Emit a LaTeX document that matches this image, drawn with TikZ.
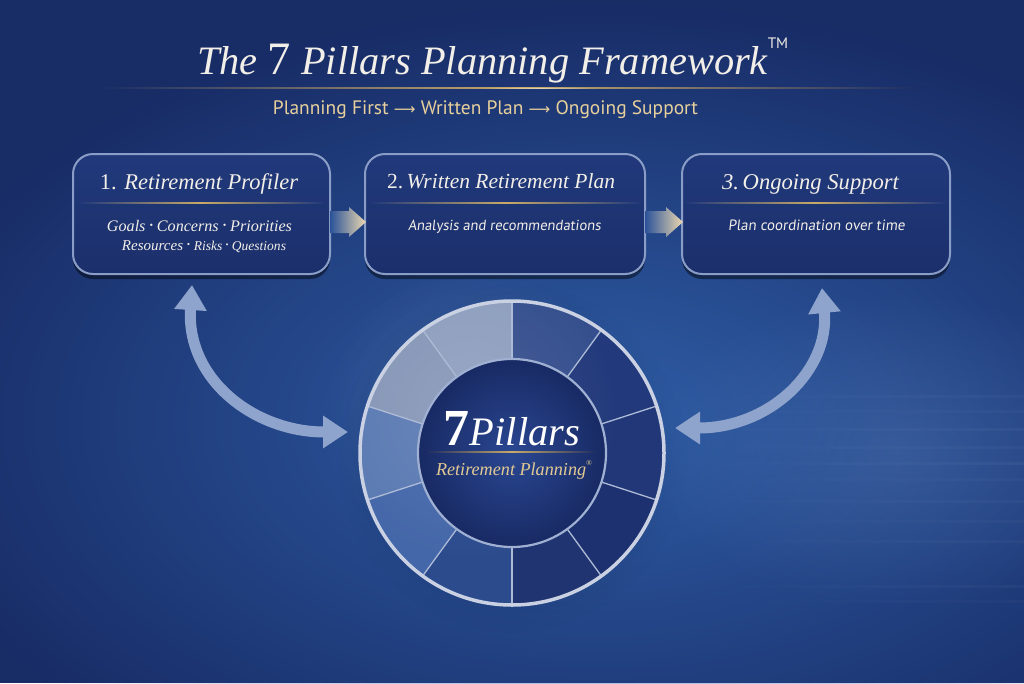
\documentclass[tikz,border=0pt]{standalone}
\usepackage{fontspec}
\usepackage{graphicx}
\usetikzlibrary{arrows.meta,calc,fadings,shadows}
\setmainfont{Liberation Serif}
\newfontfamily\subf{PT Sans}
\newfontfamily\symf{DejaVu Sans}
\newfontfamily\bodyf[FakeSlant=0.12]{PT Sans}
\definecolor{bgbase}{HTML}{182C66}
\definecolor{bgglow}{HTML}{2F5DA6}
\definecolor{gold}{HTML}{E8D09C}
\definecolor{goldd}{HTML}{C9A967}
\definecolor{ttext}{HTML}{F2EEE8}
\definecolor{boxtop}{HTML}{21397B}
\definecolor{boxbot}{HTML}{1B2F6B}
\definecolor{boxedge}{HTML}{8A9DC6}
\definecolor{arrblue}{HTML}{8FA4CC}
\definecolor{ring}{HTML}{C9D1E3}
\definecolor{sepc}{HTML}{AEBBD6}
\definecolor{innerc}{HTML}{2A4792}
\definecolor{outerc}{HTML}{182A64}
\definecolor{inedge}{HTML}{9FB0D2}
\tikzfading[name=glowfade, inner color=transparent!0, outer color=transparent!100]
\newcommand\mysep{\raisebox{0.18em}{\scalebox{0.6}{\textbullet}}}
\tikzset{
 panel/.style={draw=boxedge, line width=2pt, rounded corners=20pt, top color=boxtop, bottom color=boxbot,
   minimum height=120pt, inner sep=0pt,
   drop shadow={opacity=0.45, shadow xshift=0pt, shadow yshift=-5pt, fill=black}},
 ptitle/.style={anchor=base, text=ttext, font=\fontsize{21}{24}\selectfont\itshape, inner sep=0pt},
 pbody/.style={anchor=base, text=ttext, inner sep=0pt},
 flowarrow/.style={left color=bgglow!70!boxtop, right color=gold!80!white},
 swing/.style={draw=arrblue, line width=11pt, {Triangle[width=31pt,length=25pt]}-{Triangle[width=31pt,length=25pt]}},
}
\begin{document}
\begin{tikzpicture}[x=1pt,y=-1pt]
\useasboundingbox (0,0) rectangle (1024,683);
% background
\fill[bgbase] (0,0) rectangle (1024,683);
\fill[bgglow, path fading=glowfade] (600,420) ellipse [x radius=720, y radius=420];
\fill[bgglow!80!white, opacity=0.35, path fading=glowfade] (900,450) ellipse [x radius=260, y radius=160];
\foreach \yy/\oo in {395/0.03,410/0.025,428/0.035,446/0.03,462/0.04,478/0.025,500/0.03,520/0.025,540/0.03,585/0.03,600/0.025}{
  \fill[white, opacity=\oo, path fading=west] (680,\yy) rectangle (1024,\yy+2.5);
}
% title
\node[anchor=base west, inner sep=0pt, text=ttext] (title) at (197,74)
  {\resizebox{591pt}{!}{\fontsize{40}{44}\selectfont\itshape The {\fontsize{46}{46}\selectfont\upshape 7} Pillars Planning Framework\raisebox{0.62em}{\fontsize{15}{15}\selectfont\upshape\subf TM}}};
\shade[left color=bgbase, right color=goldd] (100,87.2) rectangle (520,88.8);
\shade[left color=goldd, right color=bgbase] (520,87.2) rectangle (925,88.8);
\fill[white, opacity=0.5, path fading=glowfade] (540,88) ellipse [x radius=60, y radius=1.2];
\node[anchor=base, inner sep=0pt, text=gold] (sub) at (485.5,114)
  {\resizebox{425pt}{!}{\subf\fontsize{18}{20}\selectfont Planning First {\symf\fontsize{14}{14}\selectfont ⟶} Written Plan {\symf\fontsize{14}{14}\selectfont ⟶} Ongoing Support}};
% panels
\node[panel, minimum width=257pt] (b1) at (201.5,214) {};
\node[panel, minimum width=280pt] (b2) at (505,214) {};
\node[panel, minimum width=268pt] (b3) at (816,214) {};
% panel titles
\node[ptitle] (t1) at (199,189) {\resizebox{198pt}{!}{{\upshape 1.} Retirement Profiler}};
\node[ptitle] (t2) at (501,188) {\resizebox{228pt}{!}{{\upshape 2.}\,Written Retirement Plan}};
\node[ptitle] (t3) at (810.5,189) {\resizebox{177pt}{!}{3.\,Ongoing Support}};
% dividers
\shade[left color=boxtop, right color=goldd] (80,202.4) rectangle (201,203.6);
\shade[left color=goldd, right color=boxtop] (201,202.4) rectangle (323,203.6);
\shade[left color=boxtop, right color=goldd] (372,202.4) rectangle (506,203.6);
\shade[left color=goldd, right color=boxtop] (506,202.4) rectangle (640,203.6);
\shade[left color=boxtop, right color=goldd] (686,202.4) rectangle (815,203.6);
\shade[left color=goldd, right color=boxtop] (815,202.4) rectangle (945,203.6);
% panel bodies
\node[pbody] (g1) at (199.5,231) {\resizebox{185pt}{!}{\itshape\fontsize{15}{18}\selectfont Goals \mysep{} Concerns \mysep{} Priorities}};
\node[pbody] (g2) at (204,250) {\resizebox{164pt}{!}{\itshape\fontsize{15}{18}\selectfont Resources \mysep{} {\fontsize{13.5}{16}\selectfont Risks \mysep{} Questions}}};
\node[pbody] (d2) at (504.5,230) {\resizebox{193pt}{!}{\bodyf\fontsize{14}{16}\selectfont Analysis and recommendations}};
\node[pbody] (d3) at (816.5,230) {\resizebox{177pt}{!}{\bodyf\fontsize{14}{16}\selectfont Plan coordination over time}};
% flow arrows between panels
\shade[flowarrow] let \p1=(b1.east), \p2=(b2.west) in
  (\x1-1pt,\y1+3pt) -- (\x2-15pt,\y1+3pt) -- (\x2-15pt,\y1+7pt) -- (\x2+2pt,\y1-8pt)
  -- (\x2-15pt,\y1-23pt) -- (\x2-15pt,\y1-19pt) -- (\x1-1pt,\y1-19pt) -- cycle;
\shade[flowarrow] let \p1=(b2.east), \p2=(b3.west) in
  (\x1-1pt,\y1+3pt) -- (\x2-15pt,\y1+3pt) -- (\x2-15pt,\y1+7pt) -- (\x2+2pt,\y1-8pt)
  -- (\x2-15pt,\y1-23pt) -- (\x2-15pt,\y1-19pt) -- (\x1-1pt,\y1-19pt) -- cycle;
% wheel
\node[circle, minimum size=304pt, inner sep=0pt] (wheel) at (512,453) {};
\fill[black, opacity=0.25, path fading=glowfade] (512,458) circle[radius=175];
\begin{scope}[shift={(512,453)}, y=1pt]
  \foreach \a/\c in {90/8E9EBE,126/8696B7,162/5A7AB3,198/4467A9,234/2B4B8D,270/1F3470,306/1D3170,342/213778,18/22397B,54/354F8E}{
    \definecolor{segc}{HTML}{\c}
    \fill[segc] (\a:94) arc[start angle=\a, end angle=\a+36, radius=94]
      -- ({\a+36}:151) arc[start angle=\a+36, end angle=\a, radius=151] -- cycle;
  }
  \fill[white, opacity=0.1, path fading=glowfade] (-40,40) circle[radius=150];
  \foreach \a in {90,126,162,198,234,270,306,342,18,54}{
    \draw[sepc, line width=1.3pt] (\a:94) -- (\a:151);
  }
  \draw[ring, line width=3.5pt] (0,0) circle[radius=152];
  \shade[inner color=innerc, outer color=outerc] (0,0) circle[radius=94];
  \draw[inedge, line width=2.2pt] (0,0) circle[radius=94];
\end{scope}
% wheel text
\node[anchor=base, inner sep=0pt, text=white] (p7) at (511.5,445)
  {\resizebox{137pt}{!}{{\fontsize{54}{54}\selectfont\bfseries 7}\kern1pt{\fontsize{42}{42}\selectfont\itshape Pillars}}};
\shade[left color=outerc, right color=goldd] (425,451.3) rectangle (512,452.7);
\shade[left color=goldd, right color=outerc] (512,451.3) rectangle (598,452.7);
\node[anchor=base, inner sep=0pt, text=gold!85!goldd] (rp) at (514,475)
  {\resizebox{156pt}{!}{\fontsize{19}{22}\selectfont\itshape Retirement Planning\raisebox{0.55em}{\fontsize{8}{8}\selectfont\upshape\textregistered}}};
% curved two-way arrows
\coordinate (l1) at (192,285);
\coordinate (l2) at (348,432);
\coordinate (r1) at (822,288);
\coordinate (r2) at (675,428);
\draw[swing] (l1) .. controls (186,380) and (255,432) .. (l2);
\draw[swing] (r1) .. controls (830,370) and (770,428) .. (r2);
\end{tikzpicture}
\end{document}
